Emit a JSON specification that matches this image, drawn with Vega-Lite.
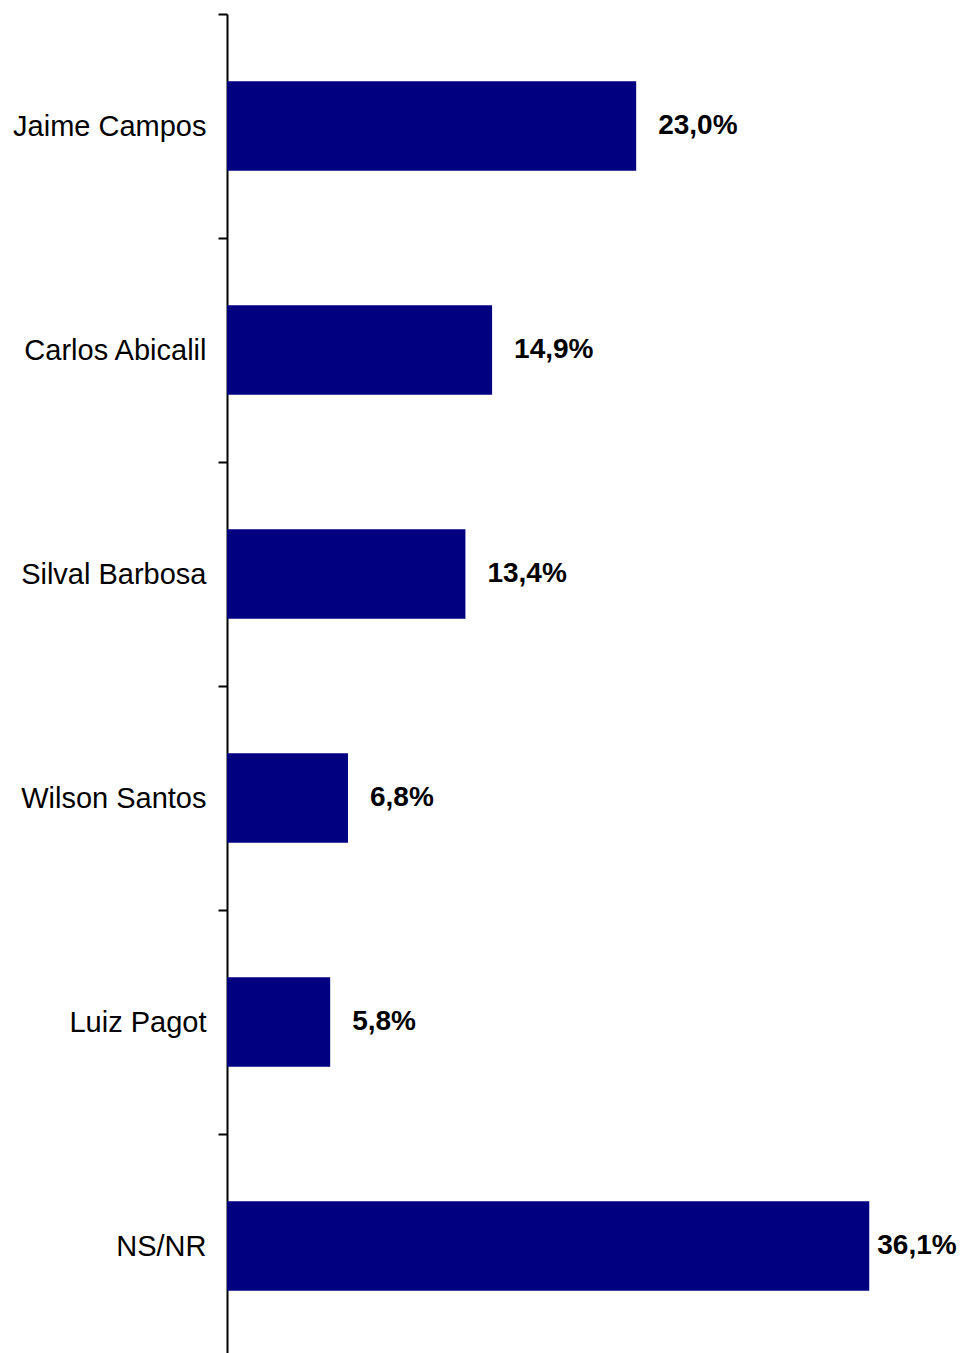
{
  "$schema": "https://vega.github.io/schema/vega-lite/v6.json",
  "width": 733,
  "height": 1344,
  "autosize": "none",
  "padding": {"left": 227, "top": 14, "right": 0, "bottom": 0},
  "background": "white",
  "config": {"view": {"stroke": null}, "font": "Liberation Sans"},
  "data": {
    "values": [
      {"name": "Jaime Campos", "value": 23.0, "label": "23,0%"},
      {"name": "Carlos Abicalil", "value": 14.9, "label": "14,9%"},
      {"name": "Silval Barbosa", "value": 13.4, "label": "13,4%"},
      {"name": "Wilson Santos", "value": 6.8, "label": "6,8%"},
      {"name": "Luiz Pagot", "value": 5.8, "label": "5,8%"},
      {"name": "NS/NR", "value": 36.1, "label": "36,1%"}
    ]
  },
  "encoding": {
    "y": {
      "field": "name",
      "type": "nominal",
      "sort": null,
      "scale": {"paddingInner": 0, "paddingOuter": 0},
      "axis": {
        "title": null,
        "tickBand": "extent",
        "labelFontSize": 29,
        "labelColor": "black",
        "labelLimit": 0,
        "labelPadding": 12,
        "domainColor": "black",
        "domainWidth": 2,
        "tickColor": "black",
        "tickWidth": 2,
        "tickSize": 9
      }
    },
    "x": {
      "field": "value",
      "type": "quantitative",
      "scale": {"domain": [0, 41.2]},
      "axis": null
    }
  },
  "layer": [
    {"mark": {"type": "bar", "color": "#000080", "height": {"band": 0.4}}},
    {
      "transform": [{"filter": "datum.value < 30"}],
      "mark": {"type": "text", "align": "left", "baseline": "middle", "dx": 22, "fontSize": 28, "fontWeight": "bold", "color": "black"},
      "encoding": {"text": {"field": "label"}}
    },
    {
      "transform": [{"filter": "datum.value >= 30"}],
      "mark": {"type": "text", "align": "left", "baseline": "middle", "dx": 8, "fontSize": 28, "fontWeight": "bold", "color": "black"},
      "encoding": {"text": {"field": "label"}}
    }
  ]
}
